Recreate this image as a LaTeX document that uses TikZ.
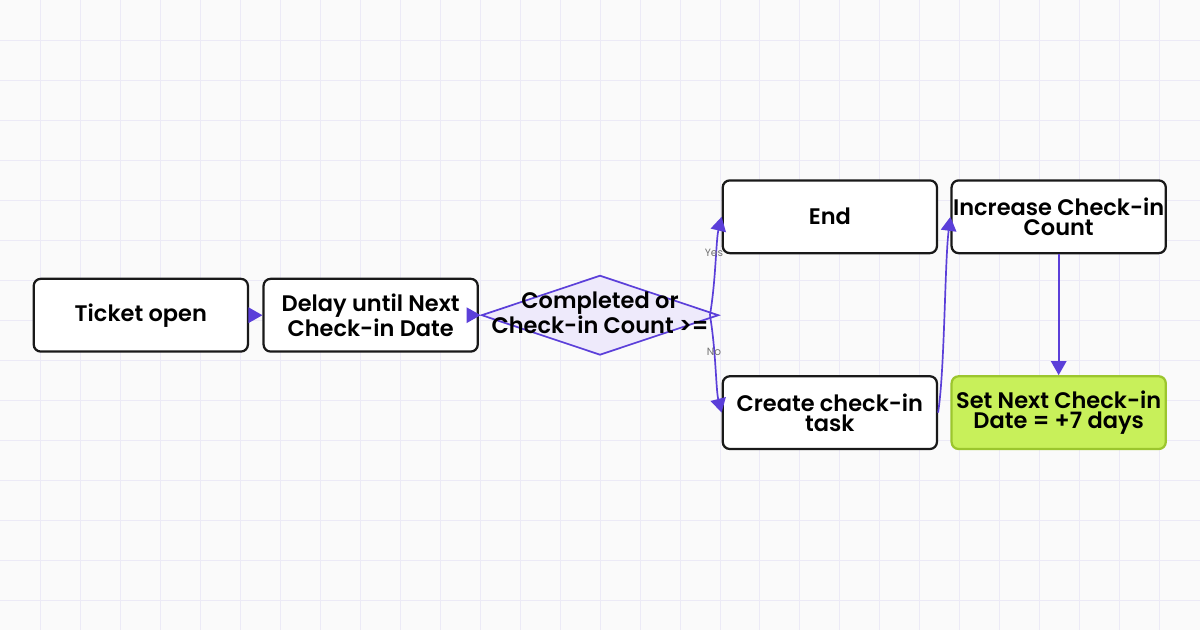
\documentclass[tikz,border=0pt]{standalone}
\usepackage{fontspec}
\setmainfont{Poppins}[BoldFont={Poppins SemiBold}]
\usetikzlibrary{shapes.geometric,arrows.meta}
\definecolor{flow}{HTML}{5B3FD9}
\definecolor{gridc}{HTML}{ECEAF6}
\definecolor{decfill}{HTML}{EEEAFB}
\definecolor{okfill}{HTML}{C8F05A}
\definecolor{okdraw}{HTML}{9CC62E}
\newcommand{\pxu}{*0.709pt}
\tikzset{
  stage/.style={draw=black!90,line width=1.6pt,rounded corners=5pt,fill=white,
    minimum width=215\pxu,minimum height=73\pxu,align=center,inner sep=1pt,
    font=\fontsize{16}{14.5}\selectfont\bfseries},
  link/.style={draw=flow,line width=1.2pt,-{Triangle[length=10pt,width=11pt]}},
  lbl/.style={font=\fontsize{7.5}{8}\selectfont,text=black!55}
}
\begin{document}
\begin{tikzpicture}[x=0.025cm,y=-0.025cm]
\fill[black!2] (0,0) rectangle (1200,630);
\foreach \gx in {40,80,...,1160} \draw[gridc,line width=0.6pt] (\gx,0) -- (\gx,630);
\foreach \gy in {40,80,...,600} \draw[gridc,line width=0.6pt] (0,\gy) -- (1200,\gy);
\useasboundingbox (0,0) rectangle (1200,630);
\node[stage] (ticket) at (140.5,315) {Ticket open};
\node[stage] (delay) at (370.5,315) {Delay until Next\\Check-in Date};
\node[diamond,draw=flow,line width=1.2pt,fill=decfill,minimum width=238\pxu,minimum height=80\pxu,
  aspect=3,inner sep=0pt] (check) at (600,315) {};
\node[font=\fontsize{16}{14.5}\selectfont\bfseries,align=center] (checktxt) at (600,313) {Completed or\\Check-in Count >=};
\node[stage] (finish) at (830,216.5) {End};
\node[stage] (task) at (830,412.5) {Create check-in\\task};
\node[stage] (count) at (1059,216.5) {Increase Check-in\\Count};
\node[stage,draw=okdraw,fill=okfill] (date) at (1059,412.5) {Set Next Check-in\\Date = +7 days};
\coordinate (split) at (710,315);
\draw[link] (ticket) -- (delay);
\draw[link] (delay) -- (check);
\draw[link] (split) .. controls (716,280) and (716,240) .. (finish.west);
\draw[link] (split) .. controls (716,350) and (716,390) .. (task.west);
\node[lbl] (yes) at (714,253) {Yes};
\node[lbl] (no) at (714,352) {No};
\draw[link] (task.east) .. controls (945,370) and (945,260) .. (count.west);
\draw[link] (count) -- (date);
\end{tikzpicture}
\end{document}
